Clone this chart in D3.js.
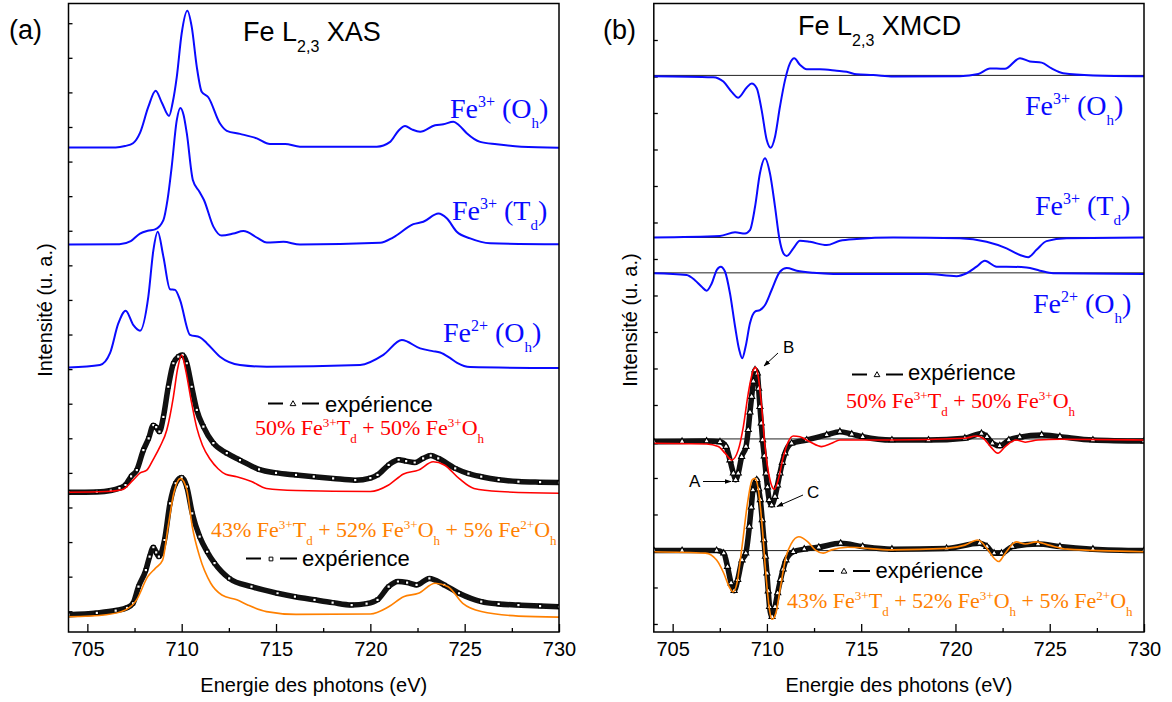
<!DOCTYPE html>
<html><head><meta charset="utf-8">
<script src="https://cdn.jsdelivr.net/npm/d3@7/dist/d3.min.js"></script>
<style>html,body{margin:0;padding:0;background:#fff;} svg{display:block;}</style>
</head><body>
<svg id="chart" width="1172" height="702"></svg>
<script>
// ---------- data (energy in eV, intensity in arbitrary units incl. vertical offset) ----------
const energyDomain = [704, 730];
const energyTicks = [705, 710, 715, 720, 725, 730];
const energyMinorTicks = [707.5, 712.5, 717.5, 722.5, 727.5];
const xAxisTitle = "Energie des photons (eV)";
const yAxisTitle = "Intensité (u. a.)";

// Panel (a) XAS
const xasFe3Oh = [[704,13.41],[706.5,13.41],[707.0,13.45],[707.42,13.53],[707.79,13.83],[708.23,14.58],[708.62,15.05],[708.95,14.7],[709.33,14.32],[709.52,14.7],[709.74,15.45],[710.0,16.71],[710.3,17.36],[710.53,16.9],[710.8,15.74],[711.06,15.02],[711.41,14.86],[712.03,14.10],[712.39,13.89],[713.09,13.80],[713.98,13.67],[714.68,13.51],[715.48,13.51],[716.27,13.43],[720.34,13.43],[721.05,13.57],[721.5,13.9],[721.84,14.03],[722.2,13.93],[722.64,13.86],[723.43,14.05],[723.87,14.08],[724.40,14.15],[724.7,14.05],[725.11,13.82],[725.82,13.57],[726.70,13.50],[728,13.43],[730,13.40]];
const xasFe3Td = [[704,10.60],[706.7,10.61],[707.3,10.7],[707.79,10.92],[708.2,11.0],[708.59,11.04],[709.03,11.31],[709.25,11.9],[709.47,12.85],[709.74,14.20],[709.93,14.55],[710.1,14.35],[710.27,13.82],[710.59,12.47],[710.94,12.13],[711.18,11.89],[711.68,11.12],[712.12,10.86],[712.74,10.92],[713.27,10.99],[714.06,10.78],[714.51,10.66],[715.39,10.68],[716.27,10.60],[720.52,10.65],[721.22,10.81],[722.28,11.19],[722.81,11.26],[723.61,11.50],[724.05,11.36],[724.58,10.97],[725.29,10.78],[726.35,10.64],[730,10.61]];
const xasFe2Oh = [[704,7.05],[705.67,7.12],[706.2,7.46],[706.64,8.32],[707.03,8.69],[707.44,8.27],[707.79,8.11],[708.23,9.09],[708.5,10.44],[708.73,10.97],[709.03,10.25],[709.38,9.31],[709.65,9.29],[709.91,9.00],[710.44,7.99],[710.97,7.92],[711.33,7.75],[712.03,7.36],[713.09,7.12],[714.51,7.07],[719.46,7.12],[720.69,7.41],[721.67,7.84],[722.64,7.60],[723.3,7.52],[723.7,7.48],[724.2,7.33],[724.6,7.18],[725.29,7.06],[730,7.03]];
const xasExp1 = [[704,3.44],[705.5,3.45],[706.24,3.49],[706.7,3.56],[707.02,3.65],[707.32,3.9],[707.62,4.08],[707.97,4.66],[708.25,5.0],[708.5,5.38],[708.65,5.32],[708.82,5.19],[709.03,5.62],[709.29,6.49],[709.56,7.17],[709.82,7.36],[710.05,7.41],[710.27,7.17],[710.53,6.49],[710.8,5.82],[711.15,5.34],[711.68,4.86],[712.39,4.57],[713.09,4.37],[714.1,4.1],[715.0,4.0],[716.06,3.94],[717.0,3.89],[718.03,3.84],[719.2,3.79],[720.0,3.85],[720.38,3.94],[720.97,4.23],[721.5,4.38],[721.9,4.34],[722.35,4.30],[722.8,4.42],[723.2,4.50],[723.6,4.42],[724.5,4.13],[725.2,3.98],[725.88,3.89],[726.8,3.80],[727.85,3.75],[729,3.73],[730,3.72]];
const xasFit1 = [[704,3.44],[706.0,3.46],[706.83,3.51],[707.42,3.79],[707.8,4.0],[708.15,4.08],[708.5,4.4],[708.85,4.76],[709.21,5.24],[709.56,6.2],[709.78,7.0],[710.0,7.41],[710.2,7.0],[710.5,6.1],[710.8,5.3],[711.1,4.8],[711.5,4.4],[711.93,4.12],[712.33,3.96],[712.92,3.89],[713.7,3.75],[714.49,3.55],[716.06,3.49],[720,3.46],[720.97,3.65],[721.76,3.97],[722.55,4.08],[723.33,4.32],[723.92,4.23],[724.7,3.84],[725.49,3.55],[726.87,3.46],[730,3.41]];
const xasExp2 = [[704,-0.1],[705.5,-0.05],[706.5,0.02],[707.1,0.1],[707.42,0.23],[707.71,0.71],[708.1,1.19],[708.3,1.58],[708.5,1.85],[708.65,1.7],[708.79,1.58],[709.09,2.06],[709.38,3.12],[709.68,3.70],[710.0,3.87],[710.27,3.60],[710.56,2.83],[710.95,2.16],[711.35,1.72],[711.74,1.39],[712.52,0.95],[713.7,0.71],[715.08,0.52],[716.0,0.42],[717.04,0.33],[718.0,0.25],[719.01,0.18],[719.8,0.22],[720.38,0.33],[720.97,0.71],[721.46,0.86],[721.95,0.83],[722.45,0.76],[723.13,0.95],[723.92,0.76],[724.7,0.52],[725.88,0.28],[726.8,0.21],[727.85,0.18],[729,0.15],[730,0.13]];
const xasFit2 = [[704,-0.16],[706,-0.1],[707.02,0.04],[707.61,0.33],[708.2,1.0],[708.6,1.24],[708.99,1.48],[709.28,2.45],[709.58,3.41],[709.93,3.84],[710.27,3.51],[710.56,2.45],[710.95,1.58],[711.54,0.81],[712.13,0.47],[712.92,0.33],[713.5,0.18],[714.49,-0.01],[716.06,-0.09],[720,-0.08],[720.97,0.13],[721.76,0.42],[722.55,0.52],[723.43,0.81],[724.12,0.71],[724.9,0.23],[725.88,-0.01],[727.85,-0.14],[730,-0.17]];

// Panel (b) XMCD
const xmcdBaselines = [15.03, 10.59, 9.62, 5.07, 2.01];
const xmcdFe3Oh = [[704,15.01],[707.15,14.98],[707.69,14.86],[708.13,14.58],[708.48,14.42],[708.93,14.70],[709.19,14.81],[709.46,14.68],[709.72,14.08],[709.99,13.26],[710.20,13.05],[710.43,13.35],[710.69,14.17],[710.96,14.90],[711.22,15.36],[711.45,15.50],[711.75,15.32],[712.11,15.20],[712.81,15.20],[713.70,15.16],[714.23,15.13],[714.76,15.06],[715.64,15.04],[716.70,15.00],[720.24,15.01],[721.21,15.07],[721.83,15.22],[722.18,15.22],[722.62,15.21],[723.42,15.50],[723.95,15.41],[724.57,15.38],[725.10,15.22],[725.71,15.09],[727.30,15.03],[730,15.01]];
const xmcdFe3Td = [[704,10.59],[707.51,10.63],[708.31,10.73],[708.84,10.70],[709.10,10.79],[709.37,11.43],[709.63,12.35],[709.90,12.76],[710.16,12.35],[710.43,11.43],[710.65,10.59],[710.87,10.16],[711.05,10.08],[711.40,10.29],[711.75,10.50],[712.28,10.47],[713.17,10.38],[713.87,10.50],[714.76,10.55],[716.70,10.59],[720.24,10.57],[721.65,10.47],[722.71,10.29],[723.42,10.11],[723.86,10.05],[724.30,10.25],[724.83,10.49],[725.89,10.57],[730,10.59]];
const xmcdFe2Oh = [[704,9.61],[705.74,9.56],[706.18,9.42],[706.54,9.24],[706.80,9.13],[707.07,9.33],[707.34,9.70],[707.55,9.79],[707.78,9.65],[708.04,9.06],[708.31,8.15],[708.53,7.51],[708.69,7.28],[708.87,7.60],[709.10,8.24],[709.37,8.56],[709.63,8.60],[709.90,8.74],[710.25,9.15],[710.69,9.65],[711.05,9.75],[711.58,9.68],[712.46,9.62],[713.52,9.59],[718.47,9.59],[720.06,9.53],[720.59,9.61],[721.12,9.79],[721.56,9.95],[722.18,9.79],[722.71,9.79],[723.77,9.77],[724.48,9.68],[725.18,9.61],[730,9.59]];
const xmcdExp1 = [[704,4.99],[705.5,5.0],[706.8,5.01],[707.51,4.99],[707.83,4.86],[708.04,4.49],[708.22,4.13],[708.34,3.95],[708.48,4.13],[708.66,4.58],[708.89,4.86],[709.01,5.32],[709.1,5.8],[709.19,6.23],[709.28,6.65],[709.37,6.96],[709.49,6.87],[709.56,6.45],[709.63,5.95],[709.70,5.5],[709.77,5.04],[709.86,4.6],[709.95,4.13],[710.03,3.75],[710.12,3.40],[710.25,3.26],[710.43,3.49],[710.56,3.8],[710.69,4.13],[710.82,4.42],[710.96,4.68],[711.31,4.95],[712.11,5.04],[713.17,5.18],[713.87,5.27],[714.5,5.2],[715.08,5.13],[716.63,5.04],[718.57,5.04],[720.5,5.09],[721.38,5.22],[721.67,5.13],[721.96,4.95],[722.35,4.88],[722.83,5.04],[723.41,5.12],[724.57,5.18],[725.54,5.13],[727.29,5.04],[730,5.01]];
const xmcdFit1 = [[704,4.95],[706.8,4.93],[707.42,4.86],[707.78,4.68],[708.13,4.49],[708.48,4.77],[708.75,5.41],[709.01,6.32],[709.28,6.96],[709.40,7.03],[709.54,6.78],[709.72,5.95],[709.90,4.86],[710.16,3.95],[710.39,3.69],[710.60,3.95],[710.87,4.58],[711.13,4.99],[711.40,5.15],[711.75,5.13],[712.28,4.99],[712.90,4.86],[713.43,4.95],[713.87,5.04],[716.63,5.04],[720.5,5.09],[721.09,5.15],[721.47,5.09],[721.86,4.86],[722.25,4.68],[722.64,4.86],[723.22,5.04],[723.7,4.98],[724.38,5.04],[725.54,5.06],[730,5.04]];
const xmcdExp2 = [[704,2.01],[705.5,2.01],[707.33,2.01],[707.71,1.94],[707.91,1.57],[708.1,1.12],[708.26,0.91],[708.45,1.21],[708.68,1.75],[708.88,1.94],[709.07,2.67],[709.17,3.2],[709.26,3.67],[709.46,3.95],[709.56,3.7],[709.65,3.40],[709.75,2.85],[709.84,2.30],[709.92,1.85],[710.0,1.39],[710.07,0.9],[710.14,0.47],[710.27,0.20],[710.43,0.47],[710.57,0.85],[710.72,1.21],[710.86,1.5],[711.01,1.75],[711.4,1.98],[711.98,2.05],[712.75,2.10],[713.91,2.21],[715.08,2.12],[716.63,2.05],[719.53,2.07],[721.28,2.21],[721.67,2.12],[722.05,1.94],[722.44,1.94],[723.02,2.12],[724.38,2.19],[725.54,2.12],[727.29,2.05],[730,2.01]];
const xmcdFit2 = [[704,1.98],[706.74,1.94],[707.33,1.75],[707.71,1.39],[708.0,1.02],[708.2,0.88],[708.39,1.07],[708.68,2.12],[708.97,3.31],[709.22,3.95],[709.36,3.99],[709.55,3.67],[709.75,2.67],[709.94,1.39],[710.14,0.38],[710.27,0.13],[710.47,0.29],[710.72,1.02],[711.01,1.84],[711.3,2.21],[711.69,2.39],[712.17,2.25],[712.56,2.03],[712.98,1.94],[713.43,2.03],[714.3,2.10],[716.63,2.03],[719.53,2.07],[720.5,2.16],[721.18,2.30],[721.67,2.07],[722.05,1.80],[722.29,1.71],[722.64,1.94],[723.22,2.25],[723.7,2.19],[724.28,2.25],[724.96,2.16],[725.93,2.05],[730,1.98]];

// label texts (rich segments: [text, kind])
const labelFe3Oh = [["Fe"],["3+","sup"],[" (O"],["h","sub"],[")"]];
const labelFe3Td = [["Fe"],["3+","sup"],[" (T"],["d","sub"],[")"]];
const labelFe2Oh = [["Fe"],["2+","sup"],[" (O"],["h","sub"],[")"]];
const labelFit1 = [["50% Fe"],["3+","sup"],["T"],["d","sub"],[" + 50% Fe"],["3+","sup"],["O"],["h","sub"]];
const labelFit2 = [["43% Fe"],["3+","sup"],["T"],["d","sub"],[" + 52% Fe"],["3+","sup"],["O"],["h","sub"],[" + 5% Fe"],["2+","sup"],["O"],["h","sub"]];
const titleA = [["Fe L"],["2,3","sub"],[" XAS"]];
const titleB = [["Fe L"],["2,3","sub"],[" XMCD"]];
const expLabel = "expérience";

// ---------- drawing ----------
const BLUE = "#0a0aff", RED = "#ff0000", ORANGE = "#ff8000";
const SANS = "'Liberation Sans', Arial, sans-serif";
const SERIF = "'Liberation Serif', 'Times New Roman', serif";
const svg = d3.select("#chart");
svg.append("rect").attr("width",1172).attr("height",702).attr("fill","#fff");
const TOP = 3.5, BOTTOM = 632;

const defs = svg.append("defs");
defs.append("marker").attr("id","arrow").attr("viewBox","0 0 10 10").attr("refX",9).attr("refY",5)
  .attr("markerWidth",7).attr("markerHeight",7).attr("orient","auto-start-reverse")
  .append("path").attr("d","M0,1.5 L10,5 L0,8.5 Z").attr("fill","#000");

function makePanel(id, x0, x1, yDomain, yTicks){
  const x = d3.scaleLinear().domain(energyDomain).range([x0, x1]);
  const y = d3.scaleLinear().domain(yDomain).range([BOTTOM, TOP]);
  const g = svg.append("g");
  defs.append("clipPath").attr("id","clip"+id).append("rect")
    .attr("x",x0).attr("y",TOP).attr("width",x1-x0).attr("height",BOTTOM-TOP);
  const gx = g.append("g").attr("transform",`translate(0,${BOTTOM})`)
    .call(d3.axisBottom(x).tickValues(energyTicks).tickSize(-8).tickPadding(10).tickFormat(d3.format("d")));
  gx.select(".domain").remove();
  gx.selectAll("text").attr("font-family",SANS).attr("font-size",20).attr("fill","#000");
  gx.selectAll("line").attr("stroke","#000").attr("stroke-width",1.3);
  const gm = g.append("g").attr("transform",`translate(0,${BOTTOM})`)
    .call(d3.axisBottom(x).tickValues(energyMinorTicks).tickSize(-4).tickFormat(""));
  gm.select(".domain").remove();
  gm.selectAll("line").attr("stroke","#000").attr("stroke-width",1.3);
  const gy = g.append("g").attr("transform",`translate(${x0},0)`)
    .call(d3.axisLeft(y).tickValues(yTicks).tickSize(-4).tickFormat(""));
  gy.select(".domain").remove();
  gy.selectAll("line").attr("stroke","#000").attr("stroke-width",1.3);
  const plot = g.append("g").attr("clip-path",`url(#clip${id})`);
  const frame = () => g.append("rect").attr("x",x0).attr("y",TOP).attr("width",x1-x0).attr("height",BOTTOM-TOP)
    .attr("fill","none").attr("stroke","#000").attr("stroke-width",1.5);
  g.append("text").attr("x",(x0+x1)/2).attr("y",692).attr("text-anchor","middle")
    .attr("font-family",SANS).attr("font-size",20).text(xAxisTitle);
  return {x, y, g, plot, frame, x0, x1};
}

function lineGen(P){ return d3.line().x(d=>P.x(d[0])).y(d=>P.y(d[1])).curve(d3.curveMonotoneX); }
function drawCurve(P, data, color, width){
  P.plot.append("path").datum(data).attr("d", lineGen(P)).attr("fill","none")
    .attr("stroke",color).attr("stroke-width",width).attr("stroke-linejoin","round");
}
function drawExp(P, data, symbolType, size){
  P.plot.append("path").datum(data).attr("d", lineGen(P)).attr("fill","none")
    .attr("stroke","#111").attr("stroke-width",5.5).attr("stroke-linejoin","round");
  const sym = d3.symbol().type(symbolType).size(size);
  P.plot.selectAll(null).data(data).enter().append("path")
    .attr("transform", d=>`translate(${P.x(d[0])},${P.y(d[1])})`)
    .attr("d", sym).attr("fill","#fff").attr("stroke","#000").attr("stroke-width",1.1);
}
function richText(parent, x, y, parts, opt){
  const t = parent.append("text").attr("x",x).attr("y",y)
    .attr("font-family",opt.family).attr("font-size",opt.size).attr("fill",opt.color);
  let shift = 0;
  parts.forEach(([s, kind])=>{
    let target = 0, fs = opt.size;
    if(kind==="sup"){ target = -opt.supShift; fs = opt.supSize; }
    if(kind==="sub"){ target = opt.subShift; fs = opt.subSize; }
    t.append("tspan").attr("dy", target - shift).attr("font-size", fs).text(s);
    shift = target;
  });
  return t;
}
function legendExp(parent, x, y, symbolType, textX, baseline){
  parent.append("line").attr("x1",x).attr("x2",x+15).attr("y1",y).attr("y2",y).attr("stroke","#000").attr("stroke-width",2);
  parent.append("path").attr("transform",`translate(${x+25},${y+0.5})`).attr("d", d3.symbol().type(symbolType).size(14))
    .attr("fill","#fff").attr("stroke","#000").attr("stroke-width",1);
  parent.append("line").attr("x1",x+34).attr("x2",x+51).attr("y1",y).attr("y2",y).attr("stroke","#000").attr("stroke-width",2);
  parent.append("text").attr("x",textX).attr("y",baseline).attr("font-family",SANS).attr("font-size",22).text(expLabel);
}
function yTitle(x, cy){
  svg.append("text").attr("transform",`translate(${x},${cy}) rotate(-90)`).attr("text-anchor","middle")
    .attr("font-family",SANS).attr("font-size",20).text(yAxisTitle);
}

const blueOpt = {family:SERIF, size:28, color:BLUE, supSize:16, supShift:11, subSize:15, subShift:10};
const fitOpt = c => ({family:SERIF, size:22, color:c, supSize:13, supShift:8, subSize:13, subShift:8});
const titleOpt = {family:SANS, size:27, color:"#000", supSize:16, supShift:0, subSize:16, subShift:11};

// ----- Panel (a)
const A = makePanel("a", 68.5, 559, [-0.6, 17.57], d3.range(0, 18));
drawCurve(A, xasFe3Oh, BLUE, 2);
drawCurve(A, xasFe3Td, BLUE, 2);
drawCurve(A, xasFe2Oh, BLUE, 2);
drawExp(A, xasExp1, d3.symbolSquare, 11);
drawCurve(A, xasFit1, RED, 1.6);
drawExp(A, xasExp2, d3.symbolSquare, 11);
drawCurve(A, xasFit2, ORANGE, 1.6);
A.frame();
yTitle(52, 310);
svg.append("text").attr("x",9).attr("y",39).attr("font-family",SANS).attr("font-size",27).text("(a)");
richText(svg, 243, 41, titleA, titleOpt);
richText(svg, 450, 118, labelFe3Oh, blueOpt);
richText(svg, 452, 220, labelFe3Td, blueOpt);
richText(svg, 443, 342, labelFe2Oh, blueOpt);
legendExp(svg, 268, 403.5, d3.symbolTriangle, 325, 411.7);
richText(svg, 255, 435, labelFit1, fitOpt(RED));
richText(svg, 211, 537, labelFit2, fitOpt(ORANGE));
legendExp(svg, 246, 558.5, d3.symbolSquare, 302, 566);

// ----- Panel (b)
const B = makePanel("b", 653.8, 1144, [-0.22, 17], d3.range(0, 17));
xmcdBaselines.forEach(v=>{
  B.plot.append("line").attr("x1",B.x0).attr("x2",B.x1).attr("y1",B.y(v)).attr("y2",B.y(v))
    .attr("stroke","#222").attr("stroke-width",1);
});
drawCurve(B, xmcdFe3Oh, BLUE, 2);
drawCurve(B, xmcdFe3Td, BLUE, 2);
drawCurve(B, xmcdFe2Oh, BLUE, 2);
drawExp(B, xmcdExp1, d3.symbolTriangle, 16);
drawCurve(B, xmcdFit1, RED, 1.6);
drawExp(B, xmcdExp2, d3.symbolTriangle, 16);
drawCurve(B, xmcdFit2, ORANGE, 1.6);
B.frame();
yTitle(637, 320);
svg.append("text").attr("x",603).attr("y",39).attr("font-family",SANS).attr("font-size",27).text("(b)");
richText(svg, 798, 35, titleB, titleOpt);
richText(svg, 1025, 115, labelFe3Oh, blueOpt);
richText(svg, 1035, 215, labelFe3Td, blueOpt);
richText(svg, 1033, 313, labelFe2Oh, blueOpt);
legendExp(svg, 852, 374.5, d3.symbolTriangle, 908, 380);
richText(svg, 846, 408, labelFit1, fitOpt(RED));
legendExp(svg, 819, 571, d3.symbolTriangle, 875.5, 578.3);
richText(svg, 787, 608, labelFit2, fitOpt(ORANGE));

// peak annotations
const annot = [
  {t:"B", tx:783, ty:353, x1:778, y1:353, x2:764, y2:366},
  {t:"A", tx:689, ty:487, x1:703, y1:481.5, x2:731, y2:481.5},
  {t:"C", tx:807, ty:498, x1:803, y1:495, x2:777, y2:506.5}
];
annot.forEach(a=>{
  svg.append("text").attr("x",a.tx).attr("y",a.ty).attr("font-family",SANS).attr("font-size",17).text(a.t);
  svg.append("line").attr("x1",a.x1).attr("y1",a.y1).attr("x2",a.x2).attr("y2",a.y2)
    .attr("stroke","#000").attr("stroke-width",1).attr("marker-end","url(#arrow)");
});
</script>
</body></html>
